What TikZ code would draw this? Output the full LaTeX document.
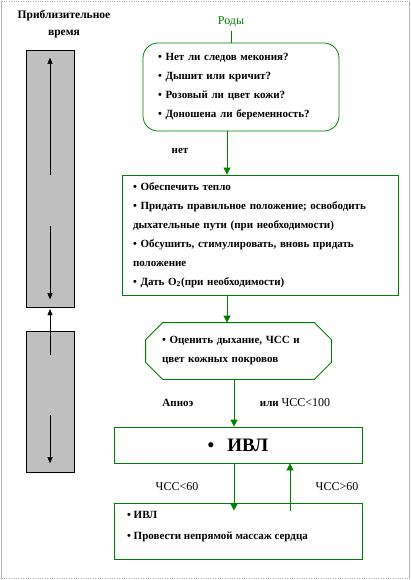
\documentclass[tikz,border=0pt]{standalone}
\usepackage{fontspec}
\setmainfont{Liberation Serif}
\usetikzlibrary{arrows.meta}
\colorlet{schemegreen}{green!50!black}
\begin{document}
\begin{tikzpicture}[x=1pt, y=-1pt, >={Triangle[width=7pt,length=7pt]},
    font=\fontsize{11}{19}\selectfont\bfseries,
    box/.style={draw=schemegreen, thick, align=left, inner sep=0pt},
    flow/.style={->, schemegreen, thick},
    timebar/.style={draw, fill=black!25, inner sep=0pt, minimum width=48pt},
    timearrow/.style={->, >={Triangle[width=5pt,length=6pt]}},
    note/.style={font=\fontsize{12}{14}\selectfont}]
    \useasboundingbox (0,0) rectangle (411,580);
    \draw[black!30] (1.5,1) -- (1.5,578.5) (409.5,1) -- (409.5,578.5);
    \draw[black!30, dotted] (1.5,1) -- (409.5,1) (1.5,578.5) -- (409.5,578.5);

    \begin{scope}
        \node[align=center, font=\fontsize{11.5}{17}\selectfont\bfseries]
            (title) at (64,24) {Приблизительное\\время};
        \node[timebar, minimum height=257pt] (bartop) at (50,178.5) {};
        \node[timebar, minimum height=141pt] (barbot) at (50,401.5) {};

        \draw[timearrow] ([yshift=3.5pt]bartop.center) -- ([yshift=-8pt]bartop.north);
        \draw[timearrow] ([yshift=-47.5pt]bartop.center) -- ([yshift=8pt]bartop.south);
        \draw[timearrow] ([yshift=-24pt]barbot.north) -- ([yshift=-2pt]bartop.south);
        \draw[timearrow] ([yshift=-13.5pt]barbot.center) -- ([yshift=9pt]barbot.south);
    \end{scope}

    \begin{scope}
        \node[schemegreen, note] (rody) at (231,22) {Роды};
        \node[box, rounded corners=15pt, minimum width=196pt, minimum height=88pt,
            text width=166pt] (questions) at (241,87)
            {\textbullet~Нет ли  следов мекония?\\
             \textbullet~Дышит или кричит?\\
             \textbullet~Розовый ли цвет кожи?\\
             \textbullet~Доношена ли беременность?};
        \node[box, minimum width=276pt, minimum height=120pt, text width=254pt]
            (firststeps) at (260,235)
            {\textbullet~Обеспечить тепло\\
             \textbullet~Придать правильное положение;  освободить\\
             дыхательные  пути (при необходимости)\\
             \textbullet~Обсушить, стимулировать, вновь придать\\
             положение\\
             \textbullet~Дать O\textsubscript{2}(при необходимости)};
        \node[box, draw=none, minimum width=185pt, minimum height=56pt,
            text width=153pt] (assess) at (238.5,351)
            {\textbullet~Оценить дыхание,  ЧСС и\\
             цвет кожных покровов};
        \draw[schemegreen, thick]
            ([xshift=17pt]assess.north west) -- ([xshift=-17pt]assess.north east)
            -- ([yshift=-17pt]assess.north east) -- ([yshift=17pt]assess.south east)
            -- ([xshift=-17pt]assess.south east) -- ([xshift=17pt]assess.south west)
            -- ([yshift=17pt]assess.south west) -- ([yshift=-17pt]assess.north west)
            -- cycle;
        \node[box, minimum width=248pt, minimum height=36pt,
            font=\fontsize{19}{22}\selectfont\bfseries] (ivl) at (238,445)
            {\textbullet\hspace{13pt}ИВЛ};
        \node[box, minimum width=248pt, minimum height=56pt] (resus) at (238,531) {};
        \node[anchor=west, align=left, font=\fontsize{11}{21}\selectfont\bfseries]
            (resustext) at ([xshift=10pt,yshift=4.5pt]resus.west)
            {\textbullet~ИВЛ\\
             \textbullet~Провести непрямой массаж  сердца};

        \node (net) at (180,151) {нет};
        \node (apnoe) at (178,403) {Апноэ};
        \node (hrlow) at (295,403) {или \mdseries\fontsize{12}{14}\selectfont ЧСС<100};
        \node[note] (hrsixty) at (177,487) {ЧСС<60};
        \node[note] (hrabove) at (337,487) {ЧСС>60};

        \draw[schemegreen, thick] (rody.south) -- (rody.south |- questions.north);
        \draw[flow] ([xshift=-14pt]questions.south) -- ([xshift=-14pt]questions.south |- firststeps.north);
        \draw[flow] ([xshift=-33pt]firststeps.south) -- ([xshift=-33pt]firststeps.south |- assess.north);
        \draw[flow] ([xshift=-4.5pt]assess.south) -- ([xshift=-4.5pt]assess.south |- ivl.north);
        \draw[flow] ([xshift=-4pt]ivl.south) -- ([xshift=-4pt,yshift=-8pt]ivl.south |- resus.north);
        \draw[flow] ([xshift=52pt,yshift=-8pt]resus.north) -- ([xshift=52pt]resus.north |- ivl.south);
    \end{scope}
\end{tikzpicture}
\end{document}
